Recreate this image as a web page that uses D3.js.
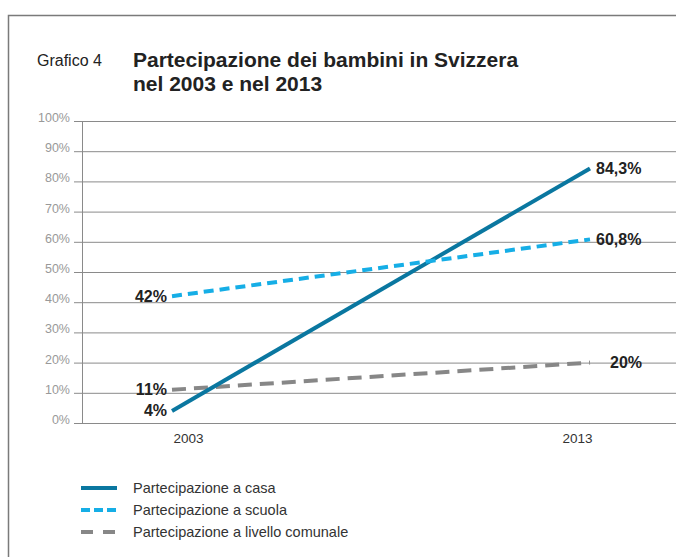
<!DOCTYPE html>
<html>
<head>
<meta charset="utf-8">
<script src="https://cdn.jsdelivr.net/npm/d3@7"></script>
<style>
  body { margin: 0; background: #fff; }
  svg { display: block; font-family: "Liberation Sans", Arial, sans-serif; }
</style>
</head>
<body>
<svg id="chart" width="676" height="557"></svg>
<script>
// chart values
const years = [2003, 2013];
const yTicks = [0, 10, 20, 30, 40, 50, 60, 70, 80, 90, 100];
const casa = [4, 84.3];
const scuola = [42, 60.8];
const comunale = [11, 20];
const casaLabels = ["4%", "84,3%"];
const scuolaLabels = ["42%", "60,8%"];
const comunaleLabels = ["11%", "20%"];

const series = [
  { name: "Partecipazione a casa", values: casa, labels: casaLabels, color: "#0a77a0", dash: null, z: 1 },
  { name: "Partecipazione a scuola", values: scuola, labels: scuolaLabels, color: "#16aee6", dash: "10,6", z: 2 },
  { name: "Partecipazione a livello comunale", values: comunale, labels: comunaleLabels, color: "#878787", dash: "14,8", z: 0 }
];

const svg = d3.select("#chart");

// frame
svg.append("path")
  .attr("d", "M8.5,557 V15.5 H676")
  .attr("fill", "none")
  .attr("stroke", "#7a7a7a")
  .attr("stroke-width", 1.5);

// title
svg.append("text")
  .attr("x", 37).attr("y", 66)
  .attr("font-size", 16).attr("fill", "#222")
  .text("Grafico 4");

svg.append("text")
  .attr("x", 133).attr("y", 67)
  .attr("font-size", 21).attr("font-weight", "bold").attr("fill", "#222")
  .text("Partecipazione dei bambini in Svizzera");

svg.append("text")
  .attr("x", 133).attr("y", 91)
  .attr("font-size", 21).attr("font-weight", "bold").attr("fill", "#222")
  .text("nel 2003 e nel 2013");

// scales
const x = d3.scaleLinear().domain([2003, 2013]).range([172, 590]);
const y = d3.scaleLinear().domain([0, 100]).range([423, 121]);

// gridlines + y labels
const grid = svg.append("g");
grid.selectAll("line")
  .data(yTicks)
  .join("line")
    .attr("x1", 74).attr("x2", 676)
    .attr("y1", d => y(d) + 0.5).attr("y2", d => y(d) + 0.5)
    .attr("stroke", "#8a8a8a").attr("stroke-width", 1);

grid.selectAll("text")
  .data(yTicks)
  .join("text")
    .attr("x", 70).attr("y", d => y(d) + 1)
    .attr("text-anchor", "end")
    .attr("font-size", 12.5).attr("fill", "#999")
    .text(d => d + "%");

svg.append("line")
  .attr("x1", 82.5).attr("x2", 82.5)
  .attr("y1", y(100)).attr("y2", y(0) + 0.5)
  .attr("stroke", "#8a8a8a");

// x axis labels
const xAxis = svg.append("g")
  .attr("transform", `translate(0, ${y(0)})`)
  .call(d3.axisBottom(x).tickValues(years).tickFormat(d3.format("d")).tickSize(0));
xAxis.select(".domain").remove();
xAxis.selectAll("text")
  .attr("font-family", "Liberation Sans, Arial, sans-serif")
  .attr("font-size", 13.5).attr("fill", "#333")
  .attr("dy", "1.25em")
  .attr("dx", (d, i) => i === 0 ? 16 : -13);

// lines
const line = d3.line()
  .x((d, i) => x(years[i]))
  .y(d => y(d));

svg.append("g").selectAll("path")
  .data(series.slice().sort((a, b) => a.z - b.z))
  .join("path")
    .attr("d", d => line(d.values))
    .attr("fill", "none")
    .attr("stroke", d => d.color)
    .attr("stroke-width", 4)
    .attr("stroke-dasharray", d => d.dash);

// value labels
const labelGroup = svg.append("g")
  .attr("font-size", 16).attr("font-weight", "bold").attr("fill", "#222");

series.forEach((s, si) => {
  labelGroup.append("text")
    .attr("x", x(years[0]) - 5)
    .attr("y", y(s.values[0]) + 5.5)
    .attr("text-anchor", "end")
    .text(s.labels[0]);
  labelGroup.append("text")
    .attr("x", x(years[1]) + (si === 2 ? 20 : 6))
    .attr("y", y(s.values[1]) + 5.5)
    .text(s.labels[1]);
});

// legend
const legend = svg.append("g").attr("transform", "translate(81, 488)");
const rows = legend.selectAll("g")
  .data(series)
  .join("g")
    .attr("transform", (d, i) => `translate(0, ${i * 22})`);

rows.append("line")
  .attr("x1", 0).attr("x2", 36)
  .attr("stroke", d => d.color)
  .attr("stroke-width", 4)
  .attr("stroke-dasharray", (d, i) => i === 1 ? "9,4" : i === 2 ? "12,10" : null);

rows.append("text")
  .attr("x", 52).attr("y", 5)
  .attr("font-size", 14.5).attr("fill", "#333")
  .text(d => d.name);
</script>
</body>
</html>
